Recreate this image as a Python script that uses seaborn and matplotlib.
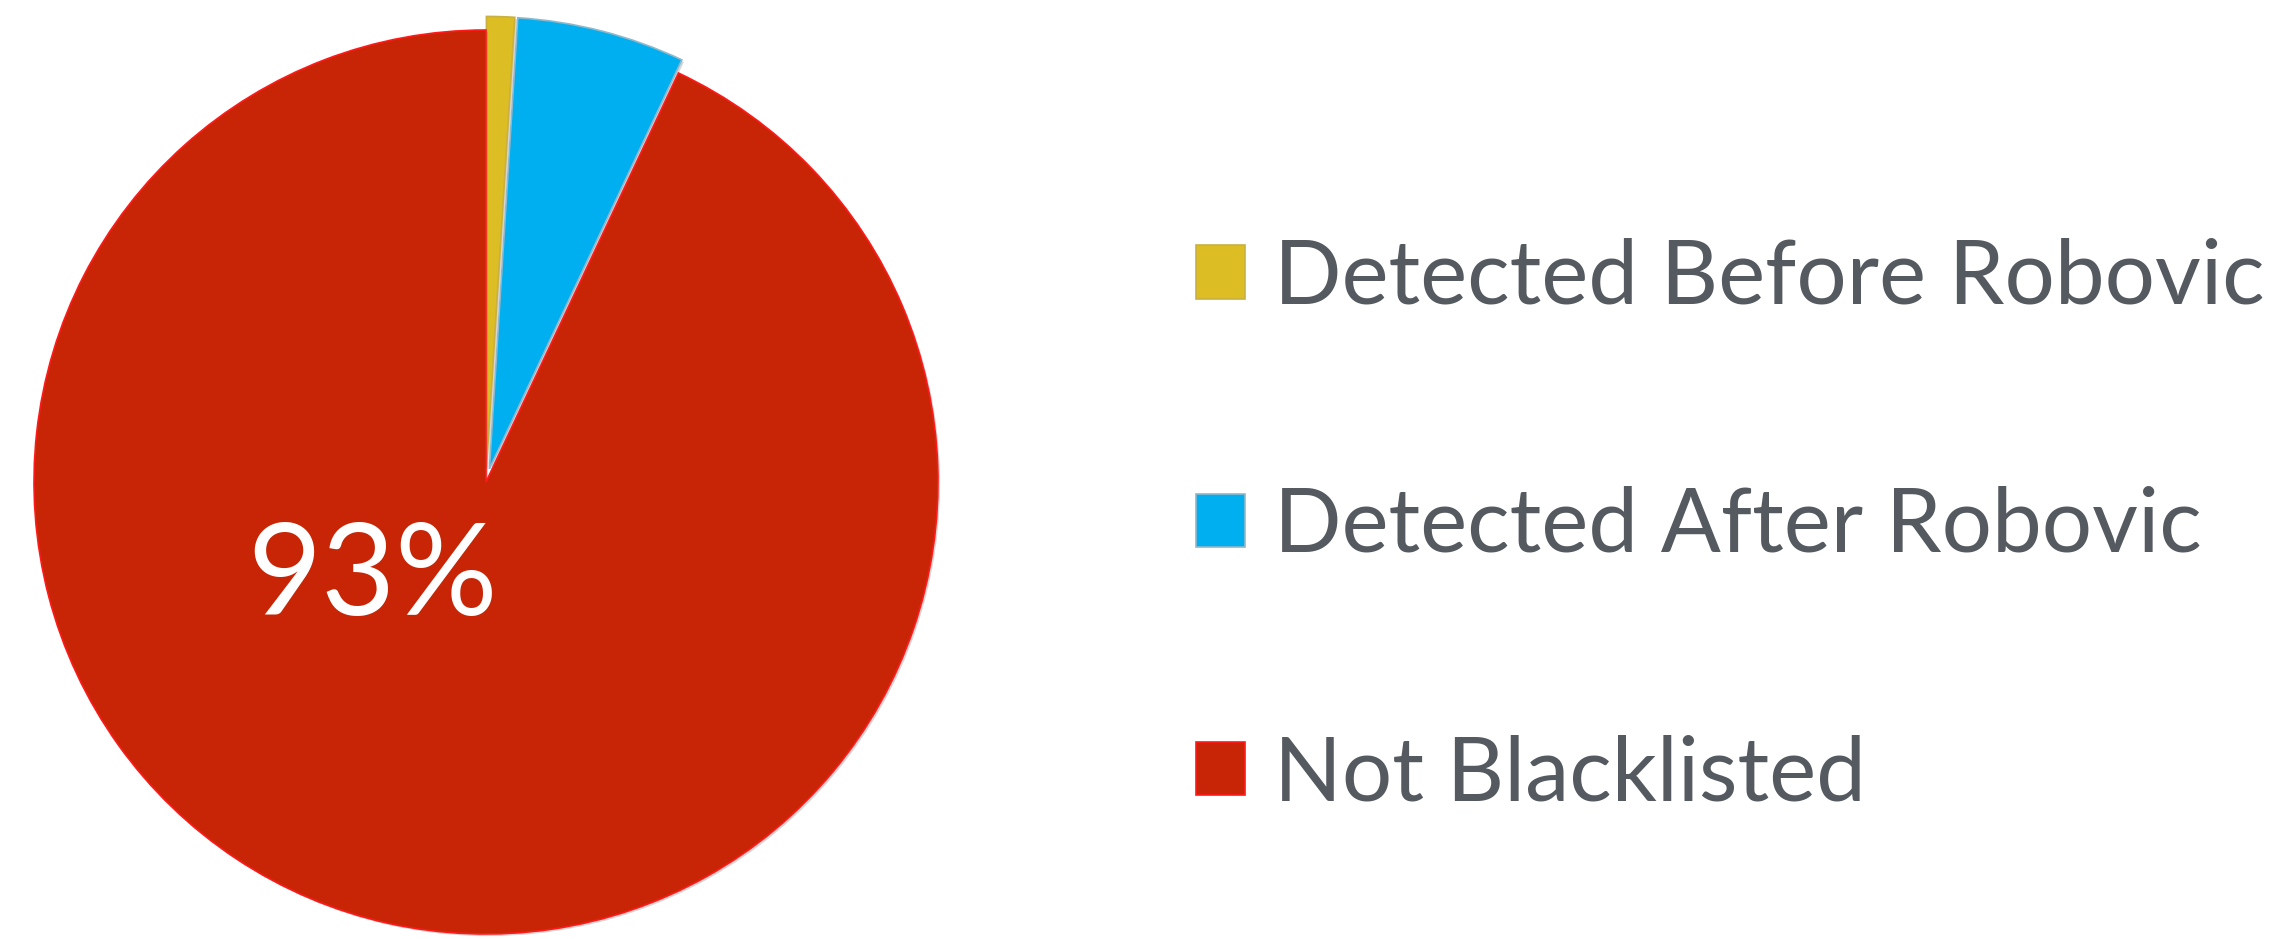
import matplotlib
matplotlib.use("Agg")
import matplotlib.pyplot as plt
import matplotlib.patheffects as pe
import seaborn as sns

# Share of blacklisted domains by detection time
categories = ["Detected Before Robovic", "Detected After Robovic", "Not Blacklisted"]
shares = [1, 6, 93]
explode_amounts = [0.03, 0.03, 0.0]
colors = ["#DCBD23", "#00AFEF", "#C82506"]
edge_colors = ["#C9B040", "#8FB8CC", "#FF1A1A"]

sns.set_theme(style="white")
plt.rcParams["font.family"] = ["Lato", "DejaVu Sans"]

W, H, DPI = 2285, 939, 100
fig = plt.figure(figsize=(W / DPI, H / DPI), dpi=DPI)

cx, cy, r = 486, 482, 452
ax = fig.add_axes([(cx - r) / W, (H - cy - r) / H, 2 * r / W, 2 * r / H])

wedges, _ = ax.pie(
    shares,
    colors=colors,
    explode=explode_amounts,
    startangle=90,
    counterclock=False,
    radius=1.0,
    wedgeprops=dict(linewidth=1.2),
)
for w, ec in zip(wedges, edge_colors):
    w.set_edgecolor(ec)
    w.set_clip_on(False)
    w.set_path_effects([
        pe.SimplePatchShadow(offset=(1.5, -1.5), shadow_rgbFace="#888888", alpha=0.35),
        pe.Normal(),
    ])
ax.set_xlim(-1, 1)
ax.set_ylim(-1, 1)
ax.set_aspect("equal")
ax.axis("off")

# Percentage of the largest share
ax.text(-0.25, -0.215, f"{shares[2]}%", color="white", fontsize=92,
        ha="center", va="center")

leg = fig.legend(
    wedges, categories,
    loc="center left",
    bbox_to_anchor=(1196 / W, 0.439),
    frameon=False,
    fontsize=64,
    handlelength=0.55,
    handleheight=0.55,
    handletextpad=0.33,
    labelspacing=1.87,
    borderaxespad=0,
    borderpad=0,
)
for t in leg.get_texts():
    t.set_color("#555A61")
for h in leg.legend_handles:
    h.set_path_effects([])

fig.savefig("out.png", dpi=DPI, facecolor="white")
